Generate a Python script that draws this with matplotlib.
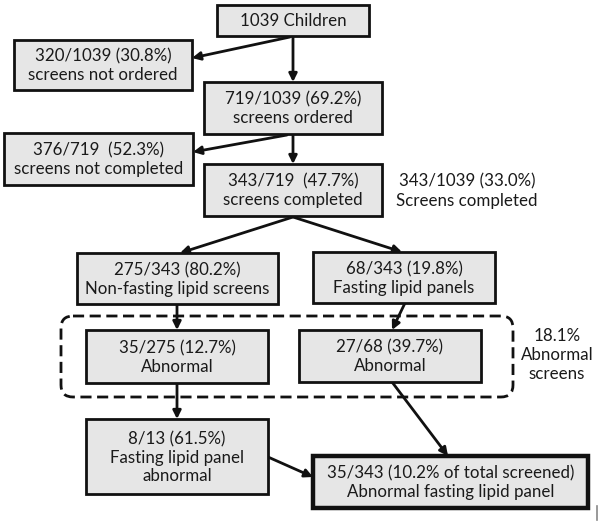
import matplotlib
matplotlib.use("Agg")
import matplotlib.pyplot as plt
from matplotlib.patches import Rectangle, FancyBboxPatch

plt.rcParams['font.family'] = ['Lato', 'DejaVu Sans']

# Box texts of the flowchart
box_labels = [
    "1039 Children",
    "320/1039 (30.8%)\nscreens not ordered",
    "719/1039 (69.2%)\nscreens ordered",
    "376/719  (52.3%)\nscreens not completed",
    "343/719  (47.7%)\nscreens completed",
    "275/343 (80.2%)\nNon-fasting lipid screens",
    "68/343 (19.8%)\nFasting lipid panels",
    "35/275 (12.7%)\nAbnormal",
    "27/68 (39.7%)\nAbnormal",
    "8/13 (61.5%)\nFasting lipid panel\nabnormal",
    "35/343 (10.2% of total screened)\nAbnormal fasting lipid panel",
]
side_labels = [
    "343/1039 (33.0%)\nScreens completed",
    "18.1%\nAbnormal\nscreens",
]

# layout in pixel coordinates (x0, y0, x1, y1), y grows downwards
box_pos = [
    (217, 5, 369, 36),
    (14, 40, 192, 90),
    (204, 82, 382, 134),
    (4, 133, 193, 185),
    (204, 164, 382, 216),
    (77, 253, 278, 304),
    (313, 252, 495, 303),
    (86, 330, 268, 383),
    (299, 330, 481, 382),
    (86, 419, 268, 494),
    (313, 456, 588, 508),
]
thick_box = 10
side_pos = [(467, 191), (557, 355)]
group_pos = (61, 316, 513, 397)  # dashed "abnormal" group

arrows = [
    ((290, 37), (192, 58)),
    ((293, 37), (293, 82)),
    ((287, 135), (193, 152)),
    ((293, 135), (293, 164)),
    ((293, 217), (180, 253)),
    ((293, 217), (402, 252)),
    ((177, 304), (177, 330)),
    ((405, 303), (392, 330)),
    ((177, 383), (177, 419)),
    ((392, 382), (448, 456)),
    ((268, 457), (313, 477)),
]

W, H = 602, 523
fig = plt.figure(figsize=(W / 100, H / 100), dpi=100)
ax = fig.add_axes([0, 0, 1, 1])
ax.set_xlim(0, W)
ax.set_ylim(H, 0)
ax.axis('off')

# dashed rounded group frame
gx0, gy0, gx1, gy1 = group_pos
ax.add_patch(FancyBboxPatch((gx0 + 10, gy0 + 10), gx1 - gx0 - 20, gy1 - gy0 - 20,
                            boxstyle="round,pad=10,rounding_size=12",
                            fill=False, edgecolor='#111111', lw=2.0,
                            linestyle=(0, (4, 2)), zorder=1))

for i, (label, (x0, y0, x1, y1)) in enumerate(zip(box_labels, box_pos)):
    lw = 3.2 if i == thick_box else 2.0
    ax.add_patch(Rectangle((x0, y0), x1 - x0, y1 - y0, facecolor='#e6e6e6',
                           edgecolor='#111111', lw=lw, zorder=3))
    ax.text((x0 + x1) / 2, (y0 + y1) / 2 + 1, label, ha='center', va='center',
            fontsize=12.2, color='#1a1a1a', linespacing=1.18, zorder=4)

for label, (x, y) in zip(side_labels, side_pos):
    ax.text(x, y, label, ha='center', va='center', fontsize=12.2,
            color='#1a1a1a', linespacing=1.25)

for start, end in arrows:
    ax.annotate("", xy=end, xytext=start,
                arrowprops=dict(arrowstyle='-|>', color='#111111', lw=2.0,
                                mutation_scale=12, shrinkA=0, shrinkB=0),
                zorder=2)

# small mark at the lower right corner of the original figure
ax.plot([597, 597], [506, 520], color='#888888', lw=1.2)

fig.savefig("out.png", dpi=100, facecolor='white')
